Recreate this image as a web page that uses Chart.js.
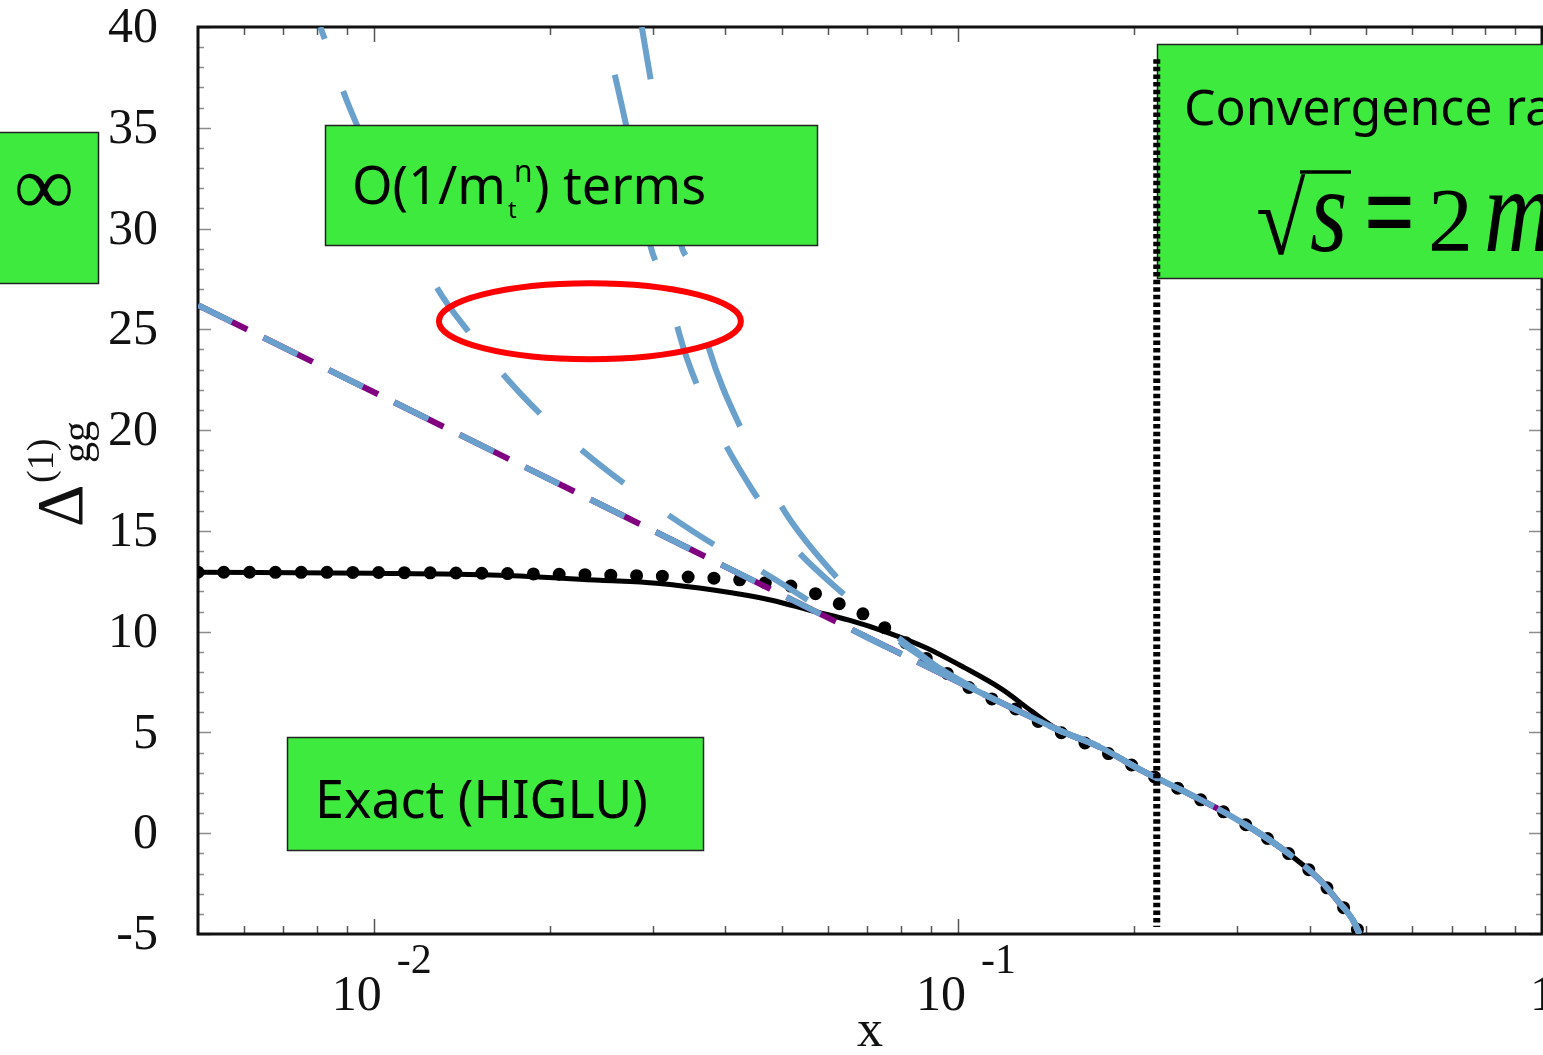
<!DOCTYPE html>
<html>
<head>
<meta charset="utf-8">
<script src="https://cdn.jsdelivr.net/npm/chart.js@4.4.1/dist/chart.umd.min.js"></script>
<style>
  html, body { margin: 0; padding: 0; background: #fff; }
  canvas { display: block; }
</style>
</head>
<body>
<canvas id="chart" width="1543" height="1055"></canvas>
<script>
(function () {
  'use strict';

  // ── axes ──
  const X_MIN = 0.005, X_MAX = 1;
  const Y_MIN = -5, Y_MAX = 40;
  const Y_TICKS = [-5, 0, 5, 10, 15, 20, 25, 30, 35, 40];
  const X_MAJOR_TICKS = [0.01, 0.1, 1];
  const X_TICK_BASE = ['10', '10', '1'];
  const X_TICK_EXP = ['-2', '-1', ''];
  const X_MINOR_TICKS = [0.006, 0.007, 0.008, 0.009,
    0.02, 0.03, 0.04, 0.05, 0.06, 0.07, 0.08, 0.09,
    0.2, 0.3, 0.4, 0.5, 0.6, 0.7, 0.8, 0.9];

  // ── curves ──
  // part where every curve lies on top of each other
  const TAIL_X = [0.149, 0.175, 0.2074, 0.2496, 0.298, 0.3558, 0.4168, 0.4457, 0.4747, 0.487];
  const TAIL_Y = [5.11, 4.27, 3.08, 1.93, 0.74, -0.69, -2.33, -3.32, -4.32, -5.0];

  // exact (HIGLU), solid black
  const EXACT_X = [0.005, 0.01, 0.0164, 0.0244, 0.0305, 0.0384, 0.048, 0.0558, 0.0651, 0.0756, 0.0878, 0.1024, 0.1189, 0.1338];
  const EXACT_Y = [12.95, 12.9, 12.8, 12.55, 12.4, 12.05, 11.56, 11.06, 10.57, 9.97, 9.23, 8.23, 7.15, 6.05];

  // dotted black
  const DOTS_X = [0.005, 0.0111, 0.0259, 0.0353, 0.0432, 0.0477, 0.053, 0.0585, 0.0646, 0.0707, 0.0768,
    0.0834, 0.0906, 0.1078, 0.118, 0.1302, 0.1426, 0.1573, 0.1722, 0.1886,
    0.2074, 0.2496, 0.298, 0.3558, 0.4168, 0.4457, 0.4747, 0.487];
  const DOTS_Y = [12.95, 12.93, 12.8, 12.7, 12.55, 12.4, 12.2, 11.76, 11.21, 10.71, 9.97,
    9.23, 8.43, 7.0, 6.5, 5.95, 5.26, 4.76, 4.22, 3.72,
    3.08, 1.93, 0.74, -0.69, -2.33, -3.32, -4.32, -5.0];

  // leading term, long dashes blue + purple
  const LIMIT_X = [0.005, 0.0244, 0.0808, 0.1262];
  const LIMIT_Y = [26.2, 16.32, 8.83, 6.1];

  // O(1/mt^n) terms, blue dashes
  const TERM_A_X = [0.0081, 0.0091, 0.01282, 0.01455, 0.0167, 0.01924, 0.02271, 0.0268, 0.032, 0.03838, 0.04672, 0.05534, 0.0653, 0.0808, 0.1262];
  const TERM_A_Y = [40.0, 35.96, 27.08, 24.85, 22.72, 20.83, 19.0, 17.36, 15.77, 14.29, 12.9, 11.56, 10.17, 8.83, 6.1];
  const TERM_B_X = [0.02476, 0.02587, 0.027, 0.0298, 0.03151, 0.03421, 0.03823, 0.04419, 0.05176, 0.06405, 0.08015, 0.1008, 0.1262];
  const TERM_B_Y = [40.0, 37.6, 35.2, 29.07, 27.28, 23.71, 20.39, 17.16, 14.38, 11.81, 9.57, 7.49, 6.1];
  const TERM_C_X = [0.02876, 0.0298, 0.03368, 0.03448, 0.03747, 0.04283, 0.05075, 0.06306, 0.07353, 0.08954, 0.1262];
  const TERM_C_Y = [40.0, 37.35, 29.07, 28.42, 24.06, 19.89, 15.87, 12.45, 10.32, 8.48, 6.1];

  // sqrt(s) = 2 mt, black dotted vertical
  const THRESH_X = [0.219, 0.219];
  const THRESH_Y = [38.4, -4.65];

  const BLUE = 'rgb(106,160,204)';
  const PURPLE = '#800080';
  const GREEN = '#3FEA3F';
  const SERIF = '"Liberation Serif", "Times New Roman", serif';
  const SANS = '"Noto Sans", "DejaVu Sans", sans-serif';

  const pts = (xs, ys) => xs.map((x, i) => ({ x: x, y: ys[i] }));
  const withTail = (xs, ys) => pts(xs.concat(TAIL_X), ys.concat(TAIL_Y));

  function line(data, color, width, dash, offset) {
    return {
      data: data,
      borderColor: color,
      borderWidth: width,
      borderDash: dash || [],
      borderDashOffset: offset || 0,
      pointRadius: 0,
      fill: false,
      cubicInterpolationMode: 'monotone',
    };
  }

  // index 0 is drawn last (on top)
  const datasets = [
    Object.assign(line(pts(THRESH_X, THRESH_Y), '#000', 7, [4.5, 3.1]), { cubicInterpolationMode: 'default', tension: 0 }),
    line(withTail(TERM_A_X, TERM_A_Y), BLUE, 6, [54, 55], 41),
    line(withTail(TERM_B_X, TERM_B_Y), BLUE, 6, [60, 70], 81),
    line(withTail(TERM_C_X, TERM_C_Y), BLUE, 6, [90, 90], 37),
    line(withTail(LIMIT_X, LIMIT_Y), BLUE, 6, [38, 35], 0),
    line(withTail(LIMIT_X, LIMIT_Y), PURPLE, 6, [55, 18], 0),
    Object.assign(line(pts(DOTS_X, DOTS_Y), '#000', 13, [0, 25.8]), { borderCapStyle: 'round' }),
    line(withTail(EXACT_X, EXACT_Y), '#000', 5),
  ];

  // ── frame and inward ticks ──
  const framePlugin = {
    id: 'frame',
    beforeDatasetsDraw(chart) {
      const { ctx, chartArea: a, scales: { x, y } } = chart;
      ctx.save();
      ctx.strokeStyle = '#8c8c8c';
      ctx.lineWidth = 1.5;
      ctx.beginPath();
      for (let v = Y_MIN; v <= Y_MAX; v += 1) {
        const py = Math.round(y.getPixelForValue(v)) + 0.5;
        const len = v % 5 === 0 ? 13 : 6;
        ctx.moveTo(a.left, py); ctx.lineTo(a.left + len, py);
        ctx.moveTo(a.right, py); ctx.lineTo(a.right - len, py);
      }
      ctx.stroke();
      ctx.strokeStyle = '#555';
      ctx.beginPath();
      const xTick = (v, len) => {
        const px = Math.round(x.getPixelForValue(v)) + 0.5;
        ctx.moveTo(px, a.bottom); ctx.lineTo(px, a.bottom - len);
        ctx.moveTo(px, a.top); ctx.lineTo(px, a.top + len);
      };
      X_MAJOR_TICKS.forEach(v => xTick(v, 15));
      X_MINOR_TICKS.forEach(v => xTick(v, 8));
      ctx.stroke();
      ctx.strokeStyle = '#111';
      ctx.lineWidth = 3;
      ctx.strokeRect(a.left, a.top, a.right - a.left, a.bottom - a.top);
      ctx.restore();
    },
  };

  // ── green boxes and red ellipse, under the threshold line ──
  function box(ctx, x, y, w, h) {
    ctx.fillStyle = GREEN;
    ctx.fillRect(x, y, w, h);
    ctx.strokeStyle = '#222';
    ctx.lineWidth = 1.5;
    ctx.strokeRect(x + 0.5, y + 0.5, w, h);
  }

  // text stretched upward from its baseline
  function tall(ctx, text, x, y, sy) {
    ctx.save();
    ctx.translate(x, y);
    ctx.scale(1, sy);
    ctx.fillText(text, 0, 0);
    ctx.restore();
  }

  const notesPlugin = {
    id: 'notes',
    afterDatasetDraw(chart, args) {
      if (args.index !== 1) return;
      const { ctx, scales: { x, y } } = chart;
      ctx.save();

      box(ctx, -2, 132, 100, 151);
      ctx.fillStyle = '#000';
      ctx.font = '84px ' + SERIF;
      ctx.textAlign = 'center';
      ctx.textBaseline = 'middle';
      ctx.fillText('∞', 44, 192);

      ctx.textAlign = 'left';
      ctx.textBaseline = 'alphabetic';

      box(ctx, 325, 125, 492, 120);
      ctx.fillStyle = '#000';
      ctx.font = '52px ' + SANS;
      ctx.fillText('O(1/m', 352, 204);
      let w = ctx.measureText('O(1/m').width;
      ctx.font = '24px ' + SANS;
      ctx.fillText('t', 352 + w + 2, 218);
      ctx.font = '30px ' + SANS;
      ctx.fillText('n', 352 + w + 8, 182);
      ctx.font = '52px ' + SANS;
      ctx.fillText(') terms', 352 + w + 28, 204);

      box(ctx, 287, 737, 416, 113);
      ctx.fillStyle = '#000';
      ctx.font = '52px ' + SANS;
      ctx.fillText('Exact (HIGLU)', 315, 818);

      box(ctx, 1157, 44, 400, 234);
      ctx.fillStyle = '#000';
      ctx.font = '50px ' + SANS;
      ctx.fillText('Convergence radius', 1184, 125);
      ctx.font = '90px ' + SERIF;
      tall(ctx, '√', 1256, 254, 1.12);
      ctx.strokeStyle = '#000';
      ctx.lineWidth = 3.5;
      ctx.beginPath();
      ctx.moveTo(1300, 172); ctx.lineTo(1351, 172);
      ctx.stroke();
      ctx.font = 'italic 96px ' + SERIF;
      tall(ctx, 's', 1310, 251, 1.25);
      ctx.font = 'bold 90px ' + SERIF;
      tall(ctx, '=', 1364, 251, 1.3);
      ctx.font = '90px ' + SERIF;
      ctx.fillText('2', 1428, 251);
      ctx.font = 'italic 96px ' + SERIF;
      tall(ctx, 'm', 1484, 251, 1.25);

      // red ellipse
      ctx.strokeStyle = '#ff0000';
      ctx.lineWidth = 6;
      ctx.beginPath();
      ctx.ellipse(x.getPixelForValue(0.02344), y.getPixelForValue(25.4), 151, 38, 0, 0, Math.PI * 2);
      ctx.stroke();
      ctx.restore();
    },
  };

  // ── tick labels and axis titles ──
  const labelsPlugin = {
    id: 'labels',
    afterDraw(chart) {
      const { ctx, scales: { x, y } } = chart;
      ctx.save();
      ctx.fillStyle = '#111';
      ctx.font = '50px ' + SERIF;
      ctx.textAlign = 'right';
      ctx.textBaseline = 'middle';
      Y_TICKS.forEach(v => ctx.fillText(String(v), 158, y.getPixelForValue(v) + 2));

      ctx.textBaseline = 'alphabetic';
      X_MAJOR_TICKS.forEach((v, i) => {
        const px = x.getPixelForValue(v);
        ctx.font = '50px ' + SERIF;
        if (X_TICK_EXP[i]) {
          ctx.textAlign = 'right';
          ctx.fillText(X_TICK_BASE[i], px + 8, 1010);
          ctx.font = '42px ' + SERIF;
          ctx.textAlign = 'left';
          ctx.fillText(X_TICK_EXP[i], px + 23, 973);
        } else {
          ctx.textAlign = 'left';
          ctx.fillText(X_TICK_BASE[i], px - 12, 1010);
        }
      });

      ctx.font = '52px ' + SERIF;
      ctx.textAlign = 'center';
      ctx.fillText('x', 870, 1046);

      // Δ_gg^(1), rotated
      ctx.translate(82, 527);
      ctx.rotate(-Math.PI / 2);
      ctx.textAlign = 'left';
      ctx.font = '66px ' + SERIF;
      ctx.fillText('Δ', 0, 0);
      ctx.font = '38px ' + SERIF;
      ctx.fillText('(1)', 44, -29);
      ctx.font = '42px ' + SERIF;
      ctx.fillText('gg', 64, 8);
      ctx.restore();
    },
  };

  new Chart(document.getElementById('chart'), {
    type: 'line',
    data: { datasets: datasets },
    options: {
      responsive: false,
      animation: false,
      devicePixelRatio: 1,
      layout: { padding: { left: 198, top: 27, right: 1, bottom: 121 } },
      plugins: { legend: { display: false }, tooltip: { enabled: false } },
      scales: {
        x: {
          type: 'logarithmic', min: X_MIN, max: X_MAX,
          grid: { display: false, drawTicks: false },
          border: { display: false },
          ticks: { display: false },
        },
        y: {
          type: 'linear', min: Y_MIN, max: Y_MAX,
          grid: { display: false, drawTicks: false },
          border: { display: false },
          ticks: { display: false },
        },
      },
    },
    plugins: [framePlugin, notesPlugin, labelsPlugin],
  });
})();
</script>
</body>
</html>
